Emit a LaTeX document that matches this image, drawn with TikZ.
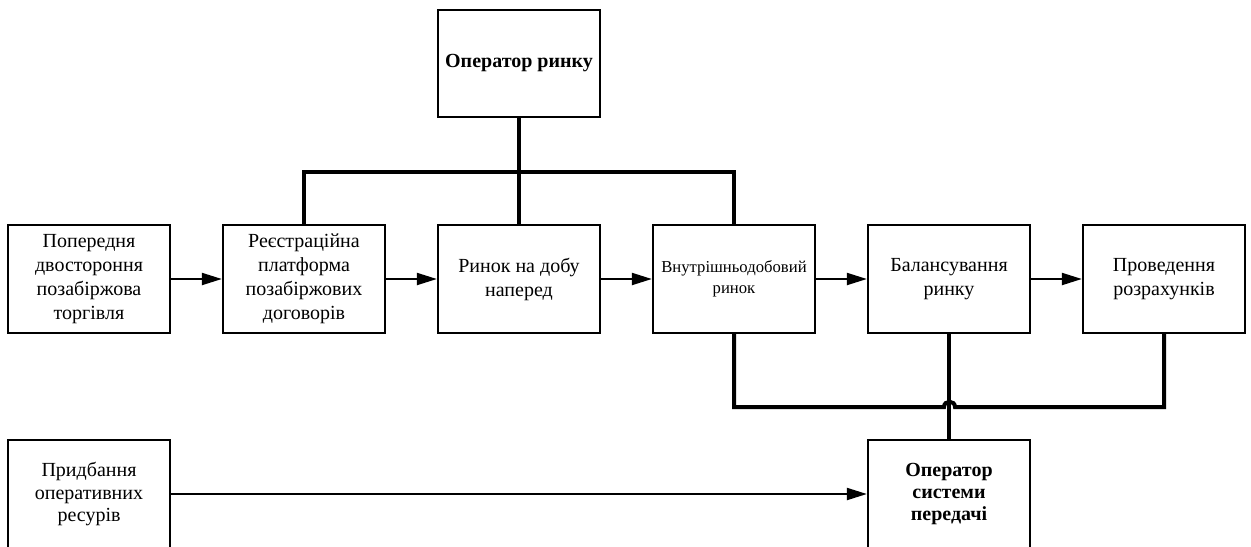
\documentclass[tikz,border=0pt]{standalone}
\usepackage{fontspec}
\setmainfont{Liberation Serif}
\usetikzlibrary{arrows.meta}
\begin{document}
\begin{tikzpicture}[x=0.75pt,y=-0.75pt,
  box/.style={draw,line width=1.7pt,minimum width=121.5pt,minimum height=81pt,
    align=center,inner sep=0pt,font=\fontsize{15}{18}\selectfont},
  boldbox/.style={box,font=\bfseries\fontsize{15}{16.5}\selectfont},
  bus/.style={line width=3pt,line join=miter},
  flow/.style={line width=1.5pt,-{Triangle[length=15pt,width=9pt]}}]
\useasboundingbox (0,0) rectangle (1251,546);
\clip (0,0) rectangle (1251,546);

% market operator
\node[boldbox,minimum height=80pt] (mo) at (519,63.5) {Оператор ринку};

% main chain of market segments
\node[box] (b1) at (89,279) {Попередня\\двостороння\\позабіржова\\торгівля};
\node[box] (b2) at (304,279) {Реєстраційна\\платформа\\позабіржових\\договорів};
\node[box] (b3) at (519,279) {Ринок на добу\\наперед};
\node[box,font=\fontsize{12.5}{16}\selectfont] (b4) at (734,279) {Внутрішньодобовий\\ринок};
\node[box] (b5) at (949,279) {Балансування\\ринку};
\node[box] (b6) at (1164,279) {Проведення\\розрахунків};

% lower row
\node[box,font=\fontsize{15}{17}\selectfont] (pr) at (89,494) {Придбання\\оперативних\\ресурів};
\node[boldbox] (osp) at (949,494) {Оператор\\системи\\передачі};

% flows
\draw[flow] (b1) -- (b2);
\draw[flow] (b2) -- (b3);
\draw[flow] (b3) -- (b4);
\draw[flow] (b4) -- (b5);
\draw[flow] (b5) -- (b6);
\draw[flow] (pr) -- (osp);

% upper bus from the market operator
\coordinate (tb) at (519,172);
\draw[bus] (mo.south) -- (b3.north);
\draw[bus] (b2.north) |- (tb) -| (b4.north);

% lower bus to the transmission system operator
\coordinate (hl) at (944,407);
\coordinate (hr) at (955,407);
\draw[bus] (b4.south) |- (hl) .. controls (944,400) and (955,400) .. (hr) -| (b6.south);
\draw[bus] (b5.south) -- (osp.north);
\end{tikzpicture}
\end{document}
